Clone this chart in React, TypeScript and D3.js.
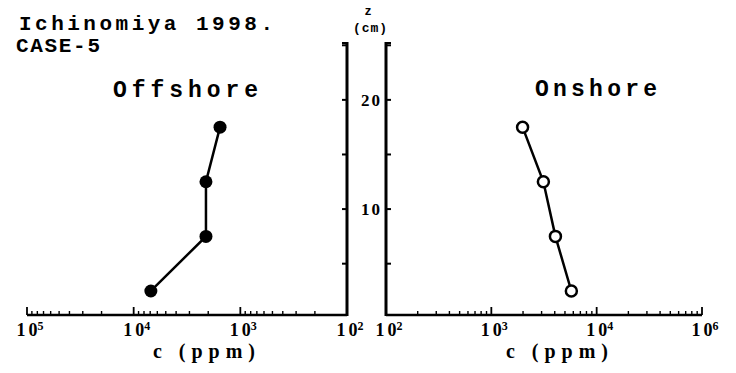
import * as d3 from 'd3'

// depth of the sampling points (cm)
const depths = [17.5, 12.5, 7.5, 2.5]
// concentration c (ppm)
const offshoreC = [1550, 2100, 2100, 6900]
const onshoreC = [1980, 3120, 4060, 5750]

const leftDecades = [1e5, 1e4, 1e3, 1e2]
const leftExponents = ['5', '4', '3', '2']
const rightDecades = [1e2, 1e3, 1e4, 1e5]
const rightExponents = ['2', '3', '4', '6']
const zTicks = [5, 10, 15, 20, 25]
const zLabels = [10, 20]

const W = 736
const H = 373
const BASE = 315
const TOP = 42
const SERIF = 'Liberation Serif'
const MONO = 'Liberation Mono'

function minorTicks(lo: number, hi: number) {
  const out: number[] = []
  for (let d = Math.log10(lo); d < Math.log10(hi); d++) {
    for (let k = 2; k <= 9; k++) out.push(k * Math.pow(10, d))
  }
  return out
}

function DecadeLabel({ x, exp }: { x: number; exp: string }) {
  return (
    <text x={x + 3} y={336} textAnchor="middle" fontFamily={SERIF} fontWeight="bold" fontSize={18}>
      <tspan>1</tspan>
      <tspan dx={3}>0</tspan>
      <tspan fontSize={12} dy={-6}>{exp}</tspan>
    </text>
  )
}

export default function App() {
  const y = d3.scaleLinear().domain([0.3, 25.3]).range([BASE, TOP])
  const xl = d3.scaleLog().domain([1e5, 1e2]).range([27, 347])
  const xr = d3.scaleLog().domain([1e2, 1e5]).range([386, 702])

  const line = (xs: d3.ScaleLogarithmic<number, number>, cs: number[]) =>
    d3.line<number>()
      .x((_, i) => xs(cs[i]))
      .y((z) => y(z))(depths) || ''

  const axisX = xl.range()[1]
  const axisXR = xr.range()[0]

  return (
    <svg width={W} height={H} style={{ position: 'absolute', left: 0, top: 0, background: '#fff' }}>
      {/* titles */}
      <text x={19} y={30} fontFamily={MONO} fontWeight="bold" fontSize={21} textLength={254}>Ichinomiya 1998.</text>
      <text x={16} y={52} fontFamily={MONO} fontWeight="bold" fontSize={21} textLength={84}>CASE-5</text>
      <text x={113} y={97} fontFamily={MONO} fontWeight="bold" fontSize={23} textLength={145}>Offshore</text>
      <text x={535} y={96} fontFamily={MONO} fontWeight="bold" fontSize={23} textLength={122}>Onshore</text>

      {/* z (cm) */}
      <text x={368} y={15} textAnchor="middle" fontFamily={MONO} fontWeight="bold" fontSize={12}>z</text>
      <text x={370} y={32} textAnchor="middle" fontFamily={MONO} fontWeight="bold" fontSize={13} textLength={34}>(cm)</text>

      {/* x axes */}
      <line x1={xl.range()[0]} x2={axisX} y1={BASE} y2={BASE} stroke="#000" strokeWidth={2.5} />
      <line x1={axisXR} x2={xr.range()[1]} y1={BASE} y2={BASE} stroke="#000" strokeWidth={2.5} />
      {minorTicks(1e2, 1e5).map((v) => (
        <g key={v}>
          <line x1={xl(v)} x2={xl(v)} y1={BASE} y2={BASE - 4} stroke="#000" strokeWidth={1.4} />
          <line x1={xr(v)} x2={xr(v)} y1={BASE} y2={BASE - 4} stroke="#000" strokeWidth={1.4} />
        </g>
      ))}
      {leftDecades.map((v, i) => (
        <g key={'l' + v}>
          <line x1={xl(v)} x2={xl(v)} y1={BASE} y2={BASE - 8} stroke="#000" strokeWidth={1.8} />
          <DecadeLabel x={xl(v)} exp={leftExponents[i]} />
        </g>
      ))}
      {rightDecades.map((v, i) => (
        <g key={'r' + v}>
          <line x1={xr(v)} x2={xr(v)} y1={BASE} y2={BASE - 8} stroke="#000" strokeWidth={1.8} />
          <DecadeLabel x={xr(v)} exp={rightExponents[i]} />
        </g>
      ))}
      <text x={204} y={358} textAnchor="middle" fontFamily={SERIF} fontWeight="bold" fontSize={20} textLength={102}>c (ppm)</text>
      <text x={557} y={358} textAnchor="middle" fontFamily={SERIF} fontWeight="bold" fontSize={20} textLength={102}>c (ppm)</text>

      {/* z axes */}
      <line x1={axisX} x2={axisX} y1={TOP} y2={BASE + 1} stroke="#000" strokeWidth={3} />
      <line x1={axisXR} x2={axisXR} y1={TOP} y2={BASE + 1} stroke="#000" strokeWidth={3} />
      {zTicks.map((z) => (
        <g key={z}>
          <line x1={axisX} x2={axisX - 5} y1={y(z)} y2={y(z)} stroke="#000" strokeWidth={2} />
          <line x1={axisXR} x2={axisXR + 5} y1={y(z)} y2={y(z)} stroke="#000" strokeWidth={2} />
        </g>
      ))}
      <line x1={axisX + 1} x2={axisX - 5} y1={TOP + 1} y2={TOP + 1} stroke="#000" strokeWidth={2} />
      <line x1={axisXR - 1} x2={axisXR + 5} y1={TOP + 1} y2={TOP + 1} stroke="#000" strokeWidth={2} />
      {zLabels.map((z) => (
        <text key={z} x={382} y={y(z) + 6} textAnchor="end" fontFamily={SERIF} fontWeight="bold" fontSize={17} letterSpacing={2}>{z}</text>
      ))}

      {/* offshore profile */}
      <path d={line(xl, offshoreC)} fill="none" stroke="#000" strokeWidth={2.5} />
      {depths.map((z, i) => (
        <circle key={'off' + z} cx={xl(offshoreC[i])} cy={y(z)} r={6.5} fill="#000" />
      ))}

      {/* onshore profile */}
      <path d={line(xr, onshoreC)} fill="none" stroke="#000" strokeWidth={2.5} />
      {depths.map((z, i) => (
        <circle key={'on' + z} cx={xr(onshoreC[i])} cy={y(z)} r={5.5} fill="#fff" stroke="#000" strokeWidth={2.5} />
      ))}
    </svg>
  )
}
